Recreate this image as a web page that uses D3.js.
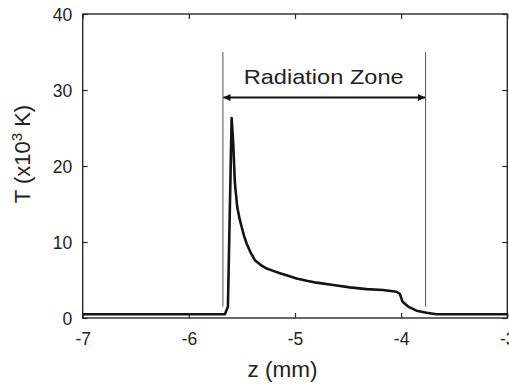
<!DOCTYPE html>
<html><head><meta charset="utf-8">
<script src="https://cdn.jsdelivr.net/npm/d3@7"></script>
<style>
html,body{margin:0;padding:0;background:#fff;}
svg{display:block;font-family:"Liberation Sans",Arial,Helvetica,sans-serif;}
</style></head>
<body>
<svg id="chart" width="509" height="384"></svg>
<script>
// Data
const zValues = [-7.0, -5.66, -5.632, -5.597, -5.582, -5.566, -5.544, -5.523, -5.503, -5.480, -5.456, -5.418, -5.378, -5.325, -5.267, -5.205, -5.142, -5.065, -4.985, -4.890, -4.797, -4.640, -4.483, -4.326, -4.170, -4.043, -4.012, -3.987, -3.934, -3.855, -3.761, -3.667, -3.0];
const tValues = [0.5, 0.5, 1.5, 26.3, 23.0, 17.7, 14.6, 13.1, 12.0, 10.8, 9.8, 8.6, 7.6, 7.0, 6.5, 6.2, 5.9, 5.55, 5.2, 4.9, 4.65, 4.34, 4.03, 3.8, 3.68, 3.46, 3.16, 2.15, 1.5, 0.96, 0.7, 0.5, 0.5];
const xTicks = [-7, -6, -5, -4, -3];
const yTicks = [0, 10, 20, 30, 40];
const zoneBounds = [-5.679, -3.770];
const zoneLineRange = [1.5, 35];
const zoneArrowT = 29;
const zoneLabel = "Radiation Zone";

(function () {
const svg = d3.select("#chart");
const x = d3.scaleLinear().domain([-7, -3]).range([82.7, 507.3]);
const y = d3.scaleLinear().domain([0, 40]).range([318, 14]);

const axisColor = "#2a2a2a";
const textColor = "#222";

const g = svg.append("g");
g.append("rect").attr("x", x(-7)).attr("y", y(40))
  .attr("width", x(-3) - x(-7)).attr("height", y(0) - y(40))
  .attr("fill", "none").attr("stroke", axisColor).attr("stroke-width", 1.4);

const tickLen = 5;
const axB = g.append("g").attr("transform", `translate(0,${y(0)})`)
  .call(d3.axisBottom(x).tickValues(xTicks).tickSizeInner(-tickLen).tickSizeOuter(0).tickPadding(27).tickFormat(d3.format("d")));
const axT = g.append("g").attr("transform", `translate(0,${y(40)})`)
  .call(d3.axisTop(x).tickValues(xTicks).tickSizeInner(-tickLen).tickSizeOuter(0).tickFormat(""));
const axL = g.append("g").attr("transform", `translate(${x(-7)},0)`)
  .call(d3.axisLeft(y).tickValues(yTicks).tickSizeInner(-tickLen).tickSizeOuter(0).tickPadding(10.5).tickFormat(d3.format("d")));
const axR = g.append("g").attr("transform", `translate(${x(-3)},0)`)
  .call(d3.axisRight(y).tickValues(yTicks).tickSizeInner(-tickLen).tickSizeOuter(0).tickFormat(""));

[axB, axT, axL, axR].forEach(a => {
  a.select(".domain").remove();
  a.selectAll(".tick line").attr("stroke", axisColor).attr("stroke-width", 1.2);
  a.selectAll(".tick text").attr("fill", textColor).attr("font-size", 17.5)
   .attr("font-family", "'Liberation Sans', Arial, sans-serif");
});
axB.selectAll(".tick text").attr("dy", "0").text(d => String(d));
axL.selectAll(".tick text").attr("dy", "0.35em");

svg.selectAll("line.zone").data(zoneBounds).join("line").attr("class", "zone")
  .attr("x1", d => x(d)).attr("x2", d => x(d))
  .attr("y1", y(zoneLineRange[0])).attr("y2", y(zoneLineRange[1]))
  .attr("stroke", "#555").attr("stroke-width", 1);

const defs = svg.append("defs");
defs.append("marker").attr("id", "ah").attr("viewBox", "0 0 10 10")
  .attr("refX", 10).attr("refY", 5).attr("markerWidth", 11).attr("markerHeight", 7)
  .attr("markerUnits", "userSpaceOnUse").attr("orient", "auto-start-reverse")
  .append("path").attr("d", "M0,0 L10,5 L0,10 Z").attr("fill", "#111");
svg.append("line")
  .attr("x1", x(zoneBounds[0]) + 0.5).attr("x2", x(zoneBounds[1]) - 0.5)
  .attr("y1", y(zoneArrowT)).attr("y2", y(zoneArrowT))
  .attr("stroke", "#111").attr("stroke-width", 2)
  .attr("marker-start", "url(#ah)").attr("marker-end", "url(#ah)");

svg.append("text").attr("x", 323.7).attr("y", 84.3)
  .attr("text-anchor", "middle").attr("font-size", 21).attr("fill", textColor)
  .attr("textLength", 160).attr("lengthAdjust", "spacingAndGlyphs")
  .text(zoneLabel);

const pts = zValues.map((z, i) => [z, tValues[i]]);
svg.append("path").datum(pts)
  .attr("d", d3.line().x(d => x(d[0])).y(d => y(d[1])))
  .attr("fill", "none").attr("stroke", "#141414").attr("stroke-width", 2.6)
  .attr("stroke-linejoin", "round");

svg.append("text").attr("x", 282.5).attr("y", 377).attr("text-anchor", "middle")
  .attr("font-size", 22.5).attr("fill", textColor).text("z (mm)");

const yl = svg.append("text").attr("transform", "translate(30,154) rotate(-90)")
  .attr("text-anchor", "middle").attr("font-size", 22).attr("fill", textColor);
yl.append("tspan").text("T (x10");
yl.append("tspan").attr("font-size", 15).attr("dy", -8).text("3");
yl.append("tspan").attr("dy", 8).text(" K)");
})();
</script>
</body></html>
